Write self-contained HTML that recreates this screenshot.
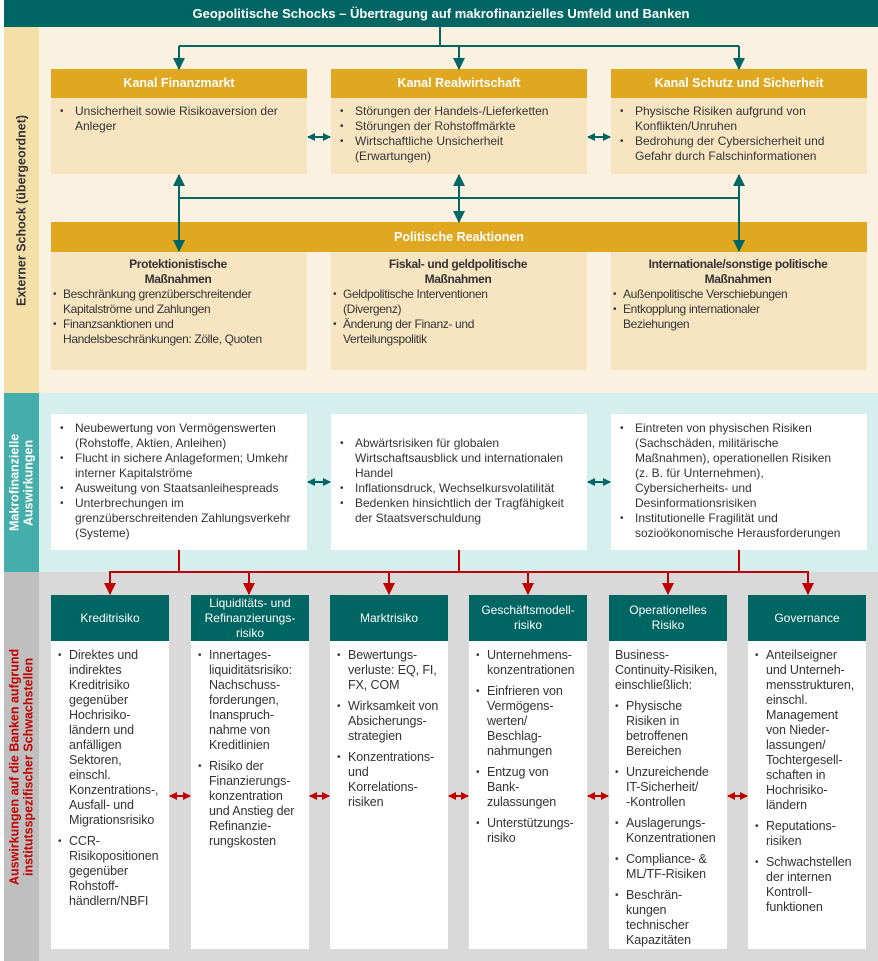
<!DOCTYPE html>
<html><head><meta charset="utf-8"><style>
*{margin:0;padding:0;box-sizing:border-box}
body{width:878px;height:961px;position:relative;background:#fff;font-family:"Liberation Sans",Arial,sans-serif;color:#333;overflow:hidden}
.a{position:absolute}
.hdr{background:#e0a820;color:#fff;font-weight:bold;font-size:12.5px;text-align:center}
.body1{background:#f7e5c2;font-size:12px;line-height:15px}
ul{list-style:none}
li{position:relative;padding-left:15px}
li:before{content:"•";position:absolute;left:0;font-size:10px}
.pol{font-size:12px;letter-spacing:-0.35px;white-space:nowrap}
.pol li{padding-left:10px}
.wb{background:#fff;font-size:12px;line-height:15px}
.rh{background:#006663;color:#fff;font-size:12px;line-height:15px;text-align:center;display:flex;align-items:center;justify-content:center}
.rb{background:#fff;font-size:12.5px;line-height:15px;padding:7px 2px 0 7px;white-space:nowrap;letter-spacing:-0.1px}
.rb li{padding-left:11px;margin-bottom:6px}
.vt{position:absolute;writing-mode:vertical-rl;transform:rotate(180deg);text-align:center;font-weight:bold;display:flex;align-items:center;justify-content:center}
</style></head><body>
<div class="a" style="left:4px;top:0;width:874px;height:27px;background:#006663;color:#fff;font-weight:bold;font-size:13px;text-align:center;line-height:27px">Geopolitische Schocks – Übertragung auf makrofinanzielles Umfeld und Banken</div>

<div class="a" style="left:4px;top:27px;width:35px;height:366px;background:#f4dfa9"></div>
<div class="a" style="left:39px;top:27px;width:839px;height:366px;background:#faf1e0"></div>
<div class="a" style="left:4px;top:393px;width:35px;height:179px;background:#45aeab"></div>
<div class="a" style="left:39px;top:393px;width:839px;height:179px;background:#d5eeee"></div>
<div class="a" style="left:4px;top:572px;width:35px;height:389px;background:#bfbfbf"></div>
<div class="a" style="left:39px;top:572px;width:839px;height:389px;background:#d9d9d9"></div>

<div class="vt" style="left:4px;top:27px;width:35px;height:366px;font-size:12.5px;color:#333">Externer Schock (übergeordnet)</div>
<div class="vt" style="left:4px;top:393px;width:35px;height:179px;font-size:12.5px;color:#fff;line-height:14px">Makrofinanzielle<br>Auswirkungen</div>
<div class="vt" style="left:4px;top:572px;width:35px;height:389px;font-size:12.5px;color:#c00000;line-height:14px">Auswirkungen auf die Banken aufgrund<br>institutsspezifischer Schwachstellen</div>

<div class="a hdr" style="left:51px;top:69px;width:256px;height:29px;line-height:29px">Kanal Finanzmarkt</div>
<div class="a hdr" style="left:331px;top:69px;width:256px;height:29px;line-height:29px">Kanal Realwirtschaft</div>
<div class="a hdr" style="left:611px;top:69px;width:256px;height:29px;line-height:29px">Kanal Schutz und Sicherheit</div>
<div class="a body1" style="left:51px;top:98px;width:256px;height:76px;padding:6px 8px 0 9px"><ul><li>Unsicherheit sowie Risikoaversion der Anleger</li></ul></div>
<div class="a body1" style="left:331px;top:98px;width:256px;height:76px;padding:6px 8px 0 9px"><ul><li>Störungen der Handels-/Lieferketten</li><li>Störungen der Rohstoffmärkte</li><li>Wirtschaftliche Unsicherheit (Erwartungen)</li></ul></div>
<div class="a body1" style="left:611px;top:98px;width:256px;height:76px;padding:6px 8px 0 9px"><ul><li>Physische Risiken aufgrund von Konflikten/Unruhen</li><li>Bedrohung der Cybersicherheit und Gefahr durch Falschinformationen</li></ul></div>

<div class="a hdr" style="left:51px;top:222px;width:816px;height:30px;line-height:30px">Politische Reaktionen</div>
<div class="a body1 pol" style="left:51px;top:252px;width:256px;height:118px;padding:5px 4px 0 2px"><div style="text-align:center;font-weight:bold">Protektionistische<br>Maßnahmen</div><ul><li>Beschränkung grenzüberschreitender<br>Kapitalströme und Zahlungen</li><li>Finanzsanktionen und<br>Handelsbeschränkungen: Zölle, Quoten</li></ul></div>
<div class="a body1 pol" style="left:331px;top:252px;width:256px;height:118px;padding:5px 4px 0 2px"><div style="text-align:center;font-weight:bold">Fiskal- und geldpolitische<br>Maßnahmen</div><ul><li>Geldpolitische Interventionen<br>(Divergenz)</li><li>Änderung der Finanz- und<br>Verteilungspolitik</li></ul></div>
<div class="a body1 pol" style="left:611px;top:252px;width:256px;height:118px;padding:5px 4px 0 2px"><div style="text-align:center;font-weight:bold">Internationale/sonstige politische<br>Maßnahmen</div><ul><li>Außenpolitische Verschiebungen</li><li>Entkopplung internationaler<br>Beziehungen</li></ul></div>

<div class="a wb" style="left:51px;top:414px;width:256px;height:136px;padding:7px 4px 0 9px"><ul><li>Neubewertung von Vermögenswerten (Rohstoffe, Aktien, Anleihen)</li><li>Flucht in sichere Anlageformen; Umkehr interner Kapitalströme</li><li>Ausweitung von Staatsanleihespreads</li><li>Unterbrechungen im grenzüberschreitenden Zahlungsverkehr (Systeme)</li></ul></div>
<div class="a wb" style="left:331px;top:414px;width:256px;height:136px;padding:22px 4px 0 9px"><ul><li>Abwärtsrisiken für globalen Wirtschaftsausblick und internationalen Handel</li><li>Inflationsdruck, Wechselkursvolatilität</li><li>Bedenken hinsichtlich der Tragfähigkeit der Staatsverschuldung</li></ul></div>
<div class="a wb" style="left:611px;top:414px;width:256px;height:136px;padding:7px 4px 0 9px;white-space:nowrap"><ul><li>Eintreten von physischen Risiken<br>(Sachschäden, militärische<br>Maßnahmen), operationellen Risiken<br>(z. B. für Unternehmen),<br>Cybersicherheits- und<br>Desinformationsrisiken</li><li>Institutionelle Fragilität und<br>sozioökonomische Herausforderungen</li></ul></div>

<div class="a rh" style="left:51px;top:595px;width:118px;height:46px">Kreditrisiko</div>
<div class="a rh" style="left:191px;top:595px;width:118px;height:46px">Liquiditäts- und<br>Refinanzierungs-<br>risiko</div>
<div class="a rh" style="left:330px;top:595px;width:118px;height:46px">Marktrisiko</div>
<div class="a rh" style="left:469px;top:595px;width:118px;height:46px">Geschäftsmodell-<br>risiko</div>
<div class="a rh" style="left:609px;top:595px;width:118px;height:46px">Operationelles<br>Risiko</div>
<div class="a rh" style="left:748px;top:595px;width:118px;height:46px">Governance</div>

<div class="a rb" style="left:51px;top:641px;width:118px;height:308px"><ul><li>Direktes und<br>indirektes<br>Kreditrisiko<br>gegenüber<br>Hochrisiko-<br>ländern und<br>anfälligen<br>Sektoren,<br>einschl.<br>Konzentrations-,<br>Ausfall- und<br>Migrationsrisiko</li><li>CCR-<br>Risikopositionen<br>gegenüber<br>Rohstoff-<br>händlern/NBFI</li></ul></div>
<div class="a rb" style="left:191px;top:641px;width:118px;height:308px"><ul><li>Innertages-<br>liquiditätsrisiko:<br>Nachschuss-<br>forderungen,<br>Inanspruch-<br>nahme von<br>Kreditlinien</li><li>Risiko der<br>Finanzierungs-<br>konzentration<br>und Anstieg der<br>Refinanzie-<br>rungskosten</li></ul></div>
<div class="a rb" style="left:330px;top:641px;width:118px;height:308px"><ul><li>Bewertungs-<br>verluste: EQ, FI,<br>FX, COM</li><li>Wirksamkeit von<br>Absicherungs-<br>strategien</li><li>Konzentrations-<br>und<br>Korrelations-<br>risiken</li></ul></div>
<div class="a rb" style="left:469px;top:641px;width:118px;height:308px"><ul><li>Unternehmens-<br>konzentrationen</li><li>Einfrieren von<br>Vermögens-<br>werten/<br>Beschlag-<br>nahmungen</li><li>Entzug von<br>Bank-<br>zulassungen</li><li>Unterstützungs-<br>risiko</li></ul></div>
<div class="a rb" style="left:609px;top:641px;width:118px;height:308px;padding-left:6px"><div style="margin-bottom:6px">Business-<br>Continuity-Risiken,<br>einschließlich:</div><ul><li>Physische<br>Risiken in<br>betroffenen<br>Bereichen</li><li>Unzureichende<br>IT-Sicherheit/<br>-Kontrollen</li><li>Auslagerungs-<br>Konzentrationen</li><li>Compliance- &amp;<br>ML/TF-Risiken</li><li>Beschrän-<br>kungen<br>technischer<br>Kapazitäten</li></ul></div>
<div class="a rb" style="left:748px;top:641px;width:118px;height:308px"><ul><li>Anteilseigner<br>und Unterneh-<br>mensstrukturen,<br>einschl.<br>Management<br>von Nieder-<br>lassungen/<br>Tochtergesell-<br>schaften in<br>Hochrisiko-<br>ländern</li><li>Reputations-<br>risiken</li><li>Schwachstellen<br>der internen<br>Kontroll-<br>funktionen</li></ul></div>

<svg class="a" style="left:0;top:0" width="878" height="961">
<defs>
<marker id="t" markerWidth="8" markerHeight="8" refX="7" refY="4" orient="auto" markerUnits="userSpaceOnUse"><path d="M0,0L8,4L0,8z" fill="#006663"/></marker>
<marker id="ts" markerWidth="8" markerHeight="8" refX="1" refY="4" orient="auto" markerUnits="userSpaceOnUse"><path d="M8,0L0,4L8,8z" fill="#006663"/></marker>
<marker id="tb" markerWidth="12" markerHeight="12" refX="11" refY="6" orient="auto" markerUnits="userSpaceOnUse"><path d="M0,0L12,6L0,12z" fill="#006663"/></marker>
<marker id="r" markerWidth="12" markerHeight="12" refX="11" refY="6" orient="auto" markerUnits="userSpaceOnUse"><path d="M0,0L12,6L0,12z" fill="#c00000"/></marker>
<marker id="rs" markerWidth="8" markerHeight="8" refX="7" refY="4" orient="auto" markerUnits="userSpaceOnUse"><path d="M0,0L8,4L0,8z" fill="#c00000"/></marker>
<marker id="rss" markerWidth="8" markerHeight="8" refX="1" refY="4" orient="auto" markerUnits="userSpaceOnUse"><path d="M8,0L0,4L8,8z" fill="#c00000"/></marker>
</defs>
<g stroke="#006663" stroke-width="2" fill="none">
<path d="M440,27V46"/><path d="M179,46H739"/>
<path d="M179,46V69" marker-end="url(#tb)"/><path d="M459,46V69" marker-end="url(#tb)"/><path d="M739,46V69" marker-end="url(#tb)"/>
<path d="M179,198H739"/>
<path d="M179,198V175" marker-end="url(#tb)"/><path d="M459,198V175" marker-end="url(#tb)"/><path d="M739,198V175" marker-end="url(#tb)"/>
<path d="M179,198V251" marker-end="url(#tb)"/><path d="M459,198V222" marker-end="url(#tb)"/><path d="M739,198V251" marker-end="url(#tb)"/>
<path d="M308,137H330" marker-start="url(#ts)" marker-end="url(#t)"/>
<path d="M588,137H610" marker-start="url(#ts)" marker-end="url(#t)"/>
<path d="M308,482H330" marker-start="url(#ts)" marker-end="url(#t)"/>
<path d="M588,482H610" marker-start="url(#ts)" marker-end="url(#t)"/>
</g>
<g stroke="#c00000" stroke-width="2" fill="none">
<path d="M179,550V572M459,550V572M739,550V572"/>
<path d="M110,572H808"/>
<path d="M110,571V594" marker-end="url(#r)"/><path d="M249,571V594" marker-end="url(#r)"/><path d="M389,571V594" marker-end="url(#r)"/><path d="M528,571V594" marker-end="url(#r)"/><path d="M668,571V594" marker-end="url(#r)"/><path d="M808,571V594" marker-end="url(#r)"/>
<path d="M170,796H190" marker-start="url(#rss)" marker-end="url(#rs)"/>
<path d="M310,796H329" marker-start="url(#rss)" marker-end="url(#rs)"/>
<path d="M449,796H468" marker-start="url(#rss)" marker-end="url(#rs)"/>
<path d="M588,796H608" marker-start="url(#rss)" marker-end="url(#rs)"/>
<path d="M728,796H747" marker-start="url(#rss)" marker-end="url(#rs)"/>
</g>
</svg>
</body></html>
